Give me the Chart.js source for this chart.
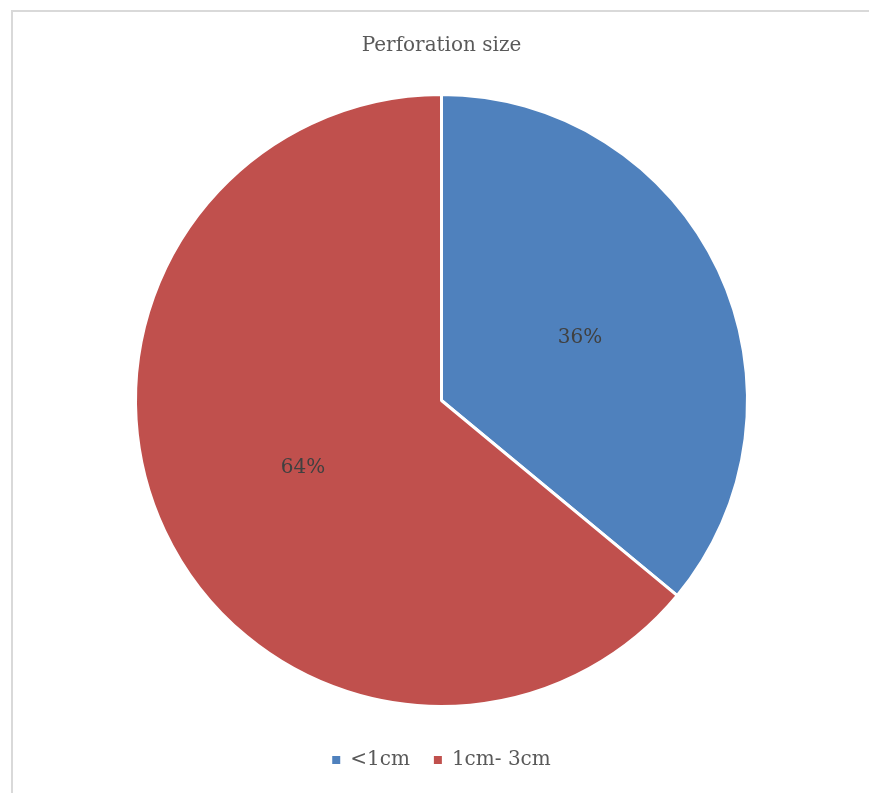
<!DOCTYPE html>
<html>
<head>
<meta charset="utf-8">
<script src="https://cdn.jsdelivr.net/npm/chart.js@4"></script>
<style>
  html, body { margin: 0; padding: 0; background: #fff; }
  #wrap { position: relative; width: 869px; height: 793px; }
  #frame { position: absolute; left: 11px; top: 10px; width: 870px; height: 800px;
           border-top: 2px solid #d9d9d9; border-left: 2px solid #d9d9d9; }
  canvas { position: absolute; left: 0; top: 0; }
</style>
</head>
<body>
<div id="wrap">
  <div id="frame"></div>
  <canvas id="perforationChart" width="869" height="793"></canvas>
</div>
<script>
const categories = ["<1cm", "1cm- 3cm"];
const percentValues = [36, 64];
const sliceColors = ["#4f81bd", "#c0504d"];

const serif = "'DejaVu Serif', serif";

// draw the percent text at the middle of each slice
const sliceLabels = {
  id: "sliceLabels",
  afterDatasetsDraw(chart) {
    const ctx = chart.ctx;
    const meta = chart.getDatasetMeta(0);
    ctx.save();
    ctx.font = "20px " + serif;
    ctx.fillStyle = "#404040";
    ctx.textAlign = "center";
    ctx.textBaseline = "middle";
    meta.data.forEach((arc, i) => {
      const p = arc.getCenterPoint();
      ctx.fillText(percentValues[i] + "%", p.x, p.y + 2);
    });
    ctx.restore();
  }
};

const ctx = document.getElementById("perforationChart");
new Chart(ctx, {
  type: "pie",
  data: {
    labels: categories,
    datasets: [{
      data: percentValues,
      backgroundColor: sliceColors,
      borderColor: "#ffffff",
      borderWidth: 3,
      hoverOffset: 0
    }]
  },
  options: {
    responsive: false,
    animation: false,
    events: [],
    layout: { padding: { top: 10, left: 134, right: 120, bottom: 13 } },
    plugins: {
      title: {
        display: true,
        text: "Perforation size",
        color: "#595959",
        font: { family: serif, size: 20, weight: "normal", lineHeight: 1.2 },
        padding: { top: 24, bottom: 17 }
      },
      legend: {
        position: "bottom",
        labels: {
          color: "#595959",
          boxWidth: 8,
          boxHeight: 8,
          padding: 24,
          font: { family: serif, size: 20 },
          generateLabels(chart) {
            const items = Chart.overrides.pie.plugins.legend.labels.generateLabels(chart);
            items.forEach(it => { it.lineWidth = 0; it.strokeStyle = it.fillStyle; });
            return items;
          }
        }
      },
      tooltip: { enabled: false }
    }
  },
  plugins: [sliceLabels]
});
</script>
</body>
</html>
